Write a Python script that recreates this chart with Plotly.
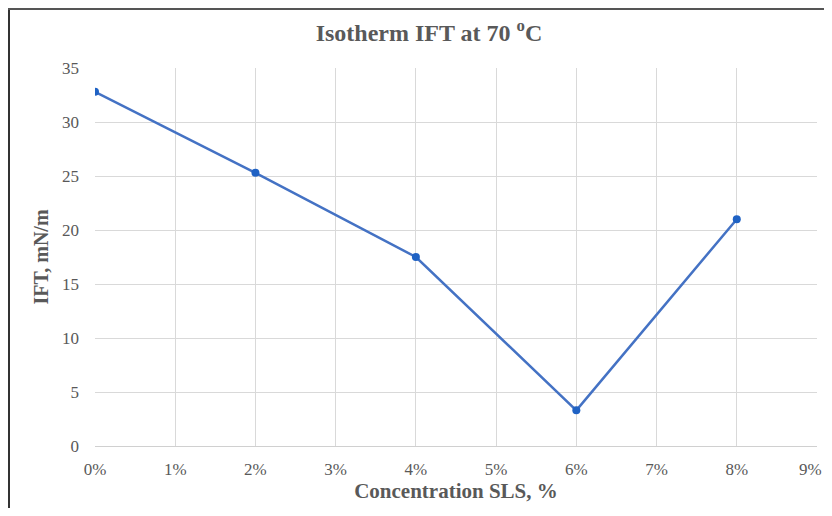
import plotly.graph_objects as go

concentration = [0, 2, 4, 6, 8]
ift = [32.8, 25.3, 17.5, 3.3, 21.0]
x_ticks = [0, 1, 2, 3, 4, 5, 6, 7, 8, 9]
x_tick_labels = ["0%", "1%", "2%", "3%", "4%", "5%", "6%", "7%", "8%", "9%"]
y_ticks = [0, 5, 10, 15, 20, 25, 30, 35]

# page is offset by the default 8px body margin; keep the page from overflowing
OFF = 8
W, H = 832 - OFF, 516 - 2 * OFF
L, R, T = 95 - OFF, 15, 68 - OFF
B = H - (446 - OFF)
pw, ph = W - L - R, H - T - B

fig = go.Figure()
fig.add_trace(go.Scatter(
    x=concentration, y=ift, mode="lines+markers",
    line=dict(color="#4472C4", width=2.5),
    marker=dict(color="#1f62c4", size=8),
    showlegend=False,
))

font = "Liberation Serif, Times New Roman, serif"
tick_font = dict(family=font, size=17, color="#595959")
fig.update_layout(
    width=W, height=H,
    margin=dict(l=L, r=R, t=T, b=B, autoexpand=False),
    paper_bgcolor="white", plot_bgcolor="white",
    font=dict(family=font, color="#595959"),
    title=dict(text="Isotherm IFT at 70 <sup>o</sup>C", x=(429 - OFF) / W, xanchor="center",
               y=1 - (33 - OFF) / H, yanchor="middle",
               font=dict(family=font, size=24, color="#595959", weight="bold")),
    xaxis=dict(range=[0, 9], tickvals=x_ticks[:-1], ticktext=x_tick_labels[:-1],
               automargin=False,
               showgrid=True, gridcolor="#d9d9d9", gridwidth=1,
               showline=True, linecolor="#d0d0d0", linewidth=1, mirror=False,
               zeroline=False, ticks="", ticklabelstandoff=8,
               tickfont=tick_font,
               title=dict(text="Concentration SLS, %", standoff=3,
                          font=dict(size=21, color="#595959", weight="bold"))),
    yaxis=dict(range=[0, 35], tickvals=y_ticks,
               automargin=False,
               showgrid=True, gridcolor="#d9d9d9", gridwidth=1,
               zeroline=False, showline=False, ticks="", ticklabelstandoff=15,
               tickfont=tick_font,
               title=dict(text="IFT, mN/m", standoff=8,
                          font=dict(size=20, color="#595959", weight="bold"))),
)

# last x tick label, kept inside the visible window
fig.add_annotation(x=x_ticks[-1], y=0, xref="x", yref="y", text=x_tick_labels[-1],
                   showarrow=False, xanchor="right", yanchor="top",
                   xshift=7, yshift=-12, font=tick_font)

# outer frame lines (left and top)
def px_x(p):
    return (p - L) / pw

def px_y(p):
    return (H - B - p) / ph

fig.add_shape(type="line", xref="paper", yref="paper",
              x0=px_x(1), x1=px_x(1), y0=px_y(0), y1=px_y(H + 5),
              line=dict(color="#333333", width=2))
fig.add_shape(type="line", xref="paper", yref="paper",
              x0=px_x(0), x1=px_x(W + 5), y0=px_y(1), y1=px_y(1),
              line=dict(color="#555555", width=2))

fig.write_html("out.html")
